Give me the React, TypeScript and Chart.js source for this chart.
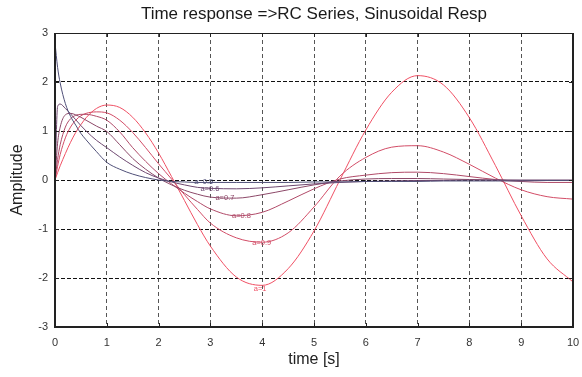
import React, { useEffect, useRef } from "react";
import { Chart, registerables } from "chart.js";

Chart.register(...registerables);

const titleText = "Time response =>RC Series, Sinusoidal Resp";
const xTitle = "time [s]";
const yTitle = "Amplitude";

const xTicks = [0, 1, 2, 3, 4, 5, 6, 7, 8, 9, 10];
const yTicks = [-3, -2, -1, 0, 1, 2, 3];

const times = [0, 0.05, 0.1, 0.2, 0.3, 0.4, 0.5, 0.6, 0.8, 1, 1.25, 1.5, 1.75, 2, 2.25, 2.5, 2.75, 3, 3.5, 4, 4.5, 5, 5.5, 6, 6.5, 7, 7.5, 8, 8.5, 9, 9.5, 10];

const a05 = [2.8, 2.3, 1.98, 1.56, 1.3, 1.12, 0.95, 0.82, 0.58, 0.36, 0.22, 0.12, 0.05, 0.0, -0.03, -0.04, -0.05, -0.05, -0.05, -0.05, -0.05, -0.04, -0.04, -0.03, -0.03, -0.03, -0.02, -0.02, -0.02, -0.02, -0.01, -0.01];
const a06 = [0, 1.5, 1.55, 1.46, 1.35, 1.23, 1.11, 1.0, 0.81, 0.66, 0.47, 0.3, 0.15, 0.04, -0.04, -0.1, -0.15, -0.17, -0.18, -0.16, -0.12, -0.08, -0.05, -0.03, -0.02, -0.01, -0.01, 0, 0, 0, 0, 0];
const a07 = [0, 0.75, 1.08, 1.33, 1.36, 1.33, 1.28, 1.22, 1.1, 0.99, 0.72, 0.44, 0.22, 0.04, -0.1, -0.21, -0.29, -0.35, -0.37, -0.3, -0.2, -0.1, -0.02, 0.02, 0.03, 0.03, 0.02, 0.01, 0, -0.01, -0.01, -0.01];
const a08 = [0, 0.42, 0.72, 1.08, 1.25, 1.32, 1.34, 1.34, 1.3, 1.22, 0.98, 0.66, 0.38, 0.13, -0.08, -0.27, -0.44, -0.59, -0.73, -0.66, -0.43, -0.18, 0.02, 0.1, 0.15, 0.16, 0.13, 0.07, 0.01, -0.03, -0.05, -0.05];
const a09 = [0, 0.28, 0.52, 0.86, 1.08, 1.22, 1.31, 1.36, 1.39, 1.37, 1.22, 0.97, 0.66, 0.33, 0.02, -0.3, -0.6, -0.88, -1.18, -1.27, -1.08, -0.55, 0.08, 0.46, 0.67, 0.7, 0.57, 0.32, 0.04, -0.2, -0.34, -0.39];
const a10 = [0, 0.15, 0.29, 0.54, 0.77, 0.97, 1.13, 1.27, 1.46, 1.53, 1.48, 1.28, 0.96, 0.55, 0.07, -0.42, -0.91, -1.35, -1.98, -2.15, -1.81, -1.04, 0.0, 1.02, 1.79, 2.13, 1.94, 1.27, 0.3, -0.73, -1.61, -2.08];

const seriesNames = ["a=0.5", "a=0.6", "a=0.7", "a=0.8", "a=0.9", "a=1"];
const seriesValues = [a05, a06, a07, a08, a09, a10];
const seriesColors = ["#505078", "#6e4870", "#8c4868", "#b04a68", "#d24c66", "#f05064"];

// curve-label anchor positions (data units)
const labelT = [2.87, 2.99, 3.28, 3.6, 3.99, 3.96];
const labelV = [-0.03, -0.18, -0.37, -0.73, -1.28, -2.22];

const FONT = "'Liberation Sans', Arial, Helvetica, sans-serif";

const framePlugin = {
  id: "frame",
  afterDatasetsDraw(chart: any) {
    const { ctx, chartArea } = chart;
    const { left, right, top, bottom } = chartArea;
    const xs = chart.scales.x;
    const ys = chart.scales.y;
    ctx.save();
    ctx.strokeStyle = "#222";
    ctx.setLineDash([]);
    ctx.lineWidth = 1;
    ctx.beginPath();
    xTicks.forEach((v) => {
      const p = Math.round(xs.getPixelForValue(v)) + 0.5;
      ctx.moveTo(p, top);
      ctx.lineTo(p, top + 4);
      ctx.moveTo(p, bottom);
      ctx.lineTo(p, bottom - 4);
    });
    yTicks.forEach((v) => {
      const p = Math.round(ys.getPixelForValue(v)) + 0.5;
      ctx.moveTo(left, p);
      ctx.lineTo(left + 4, p);
      ctx.moveTo(right, p);
      ctx.lineTo(right - 4, p);
    });
    ctx.stroke();
    ctx.beginPath();
    ctx.moveTo(left, Math.round(top) + 0.5);
    ctx.lineTo(right, Math.round(top) + 0.5);
    ctx.stroke();
    ctx.lineWidth = 2;
    ctx.beginPath();
    ctx.moveTo(Math.round(left), top);
    ctx.lineTo(Math.round(left), Math.round(bottom));
    ctx.lineTo(Math.round(right), Math.round(bottom));
    ctx.lineTo(Math.round(right), top);
    ctx.stroke();
    ctx.restore();
  },
};

const curveLabelPlugin = {
  id: "curveLabels",
  afterDatasetsDraw(chart: any) {
    const { ctx } = chart;
    const xs = chart.scales.x;
    const ys = chart.scales.y;
    ctx.save();
    ctx.font = `7.5px ${FONT}`;
    ctx.textAlign = "center";
    ctx.textBaseline = "middle";
    seriesNames.forEach((name, i) => {
      ctx.fillStyle = seriesColors[i];
      ctx.fillText(name, xs.getPixelForValue(labelT[i]), ys.getPixelForValue(labelV[i]));
    });
    ctx.restore();
  },
};

export default function App() {
  const ref = useRef<HTMLCanvasElement | null>(null);

  useEffect(() => {
    if (!ref.current) return;
    const chart = new Chart(ref.current, {
      type: "line",
      data: {
        datasets: seriesValues.map((vals, i) => ({
          label: seriesNames[i],
          data: times.map((t, j) => ({ x: t, y: vals[j] })),
          borderColor: seriesColors[i],
          backgroundColor: seriesColors[i],
          borderWidth: 1,
          pointRadius: 0,
          fill: false,
          cubicInterpolationMode: "monotone",
        })),
      },
      options: {
        animation: false,
        responsive: false,
        devicePixelRatio: 1,
        layout: { padding: { left: 0, right: 9, top: 0, bottom: 0 } },
        plugins: {
          legend: { display: false },
          tooltip: { enabled: false },
          title: {
            display: true,
            text: titleText,
            fullSize: false,
            color: "#1a1a1a",
            font: { family: FONT, size: 17, weight: "normal" },
            padding: { top: 3.8, bottom: 8.8 },
          },
        },
        scales: {
          x: {
            type: "linear",
            min: 0,
            max: 10,
            afterBuildTicks: (s: any) => {
              s.ticks = xTicks.map((v) => ({ value: v }));
            },
            afterFit: (s: any) => {
              s.height = 50;
              s.paddingLeft = 0;
              s.paddingRight = 0;
            },
            grid: { color: "#555", lineWidth: 1, drawTicks: false },
            border: { display: false, dash: [4, 3] },
            ticks: {
              padding: 9,
              color: "#333",
              font: { family: FONT, size: 11 },
              maxRotation: 0,
              autoSkip: false,
            },
            title: {
              display: true,
              text: xTitle,
              color: "#222",
              font: { family: FONT, size: 16 },
              padding: { top: 0, bottom: 7.4 },
            },
          },
          y: {
            type: "linear",
            min: -3,
            max: 3,
            afterBuildTicks: (s: any) => {
              s.ticks = yTicks.map((v) => ({ value: v }));
            },
            afterFit: (s: any) => {
              s.width = 55;
              s.paddingTop = 0;
              s.paddingBottom = 0;
            },
            grid: { color: "#111", lineWidth: 1, drawTicks: false },
            border: { display: false, dash: [4, 2] },
            ticks: {
              padding: 7,
              color: "#333",
              font: { family: FONT, size: 11 },
              autoSkip: false,
            },
            title: {
              display: true,
              text: yTitle,
              color: "#222",
              font: { family: FONT, size: 16 },
              padding: { top: 8, bottom: 0 },
            },
          },
        },
      },
      plugins: [framePlugin, curveLabelPlugin],
    } as any);
    return () => chart.destroy();
  }, []);

  return (
    <div style={{ position: "absolute", left: 0, top: 0, width: 582, height: 377, background: "#fff" }}>
      <canvas ref={ref} width={582} height={377} style={{ display: "block", width: 582, height: 377 }} />
    </div>
  );
}
